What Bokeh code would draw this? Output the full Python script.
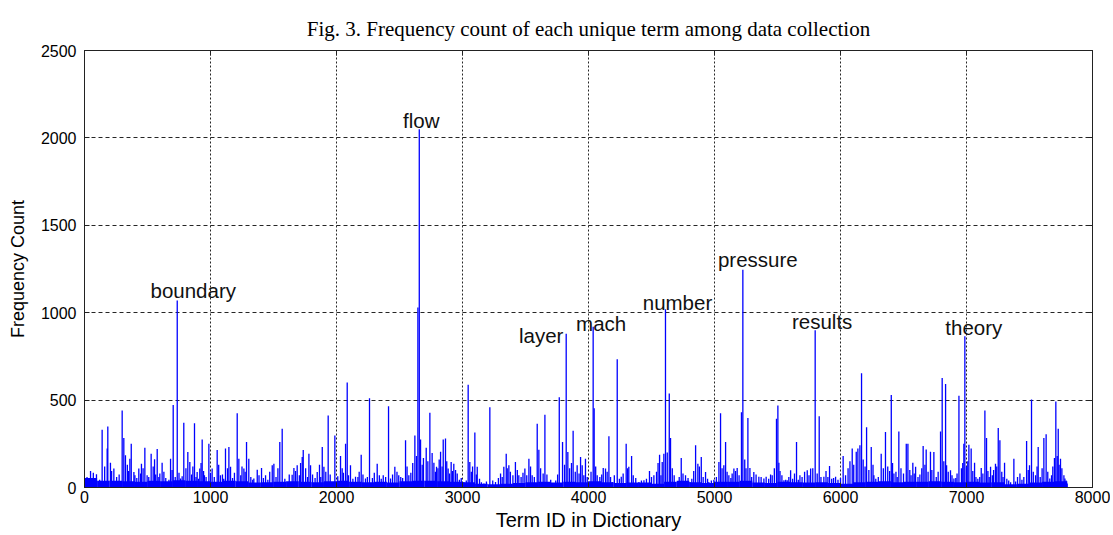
import numpy as np
from bokeh.plotting import figure
from bokeh.models import ColumnDataSource, Range1d, LinearAxis, FixedTicker
from bokeh.embed import file_html
from bokeh.resources import INLINE
from bokeh.core.properties import value

# ---------------- data ----------------
# prominent spikes
term_ids = [
    5, 48, 95, 140, 180, 185, 206, 233, 299, 312, 325, 360, 371, 392, 431, 452, 479, 497, 529, 556,
    577, 598, 616, 656, 683, 704, 736, 762, 788, 820, 836, 873, 894, 915, 934, 952, 987, 1013, 1053, 1079,
    1119, 1146, 1159, 1212, 1225, 1265, 1286, 1304, 1344,
    1371, 1405, 1437, 1490, 1503, 1550, 1569, 1609, 1648, 1662, 1688, 1728, 1736, 1781, 1794, 1847, 1887, 1900, 1934, 1966,
    1987, 2032, 2072, 2085, 2111, 2151, 2196, 2230, 2262, 2323, 2371, 2413, 2429, 2463, 2494, 2548, 2574, 2622, 2646, 2657,
    2667, 2690, 2712,
    2741, 2759, 2773, 2794, 2826, 2847, 2865, 2886, 2910, 2931, 2958, 3011, 3045, 3058, 3098, 3117, 3170, 3217, 3262, 3302,
    3328, 3347, 3368, 3420, 3447, 3495, 3527, 3553, 3593, 3606, 3654, 3685, 3725, 3768, 3794, 3823, 3836, 3878, 3910, 3937,
    3950, 3976,
    4037, 4045, 4069, 4117, 4135, 4162, 4188, 4228, 4260, 4299, 4320, 4342, 4400, 4440, 4484, 4519, 4564, 4585, 4598, 4611,
    4641, 4651, 4691, 4736, 4770, 4805, 4850, 4868, 4895, 4929, 4955, 5035, 5048, 5074, 5088, 5114, 5154, 5180, 5214, 5225,
    5265, 5281, 5312, 5352, 5392,
    5410, 5458, 5492, 5503, 5511, 5551, 5577, 5604, 5651, 5678, 5736, 5763, 5799, 5831, 5868, 5913, 5961, 6021, 6093, 6125,
    6138, 6154, 6167, 6207, 6244, 6265, 6323, 6357, 6403, 6424, 6463, 6522, 6535, 6574, 6596, 6656, 6680, 6714, 6741,
    6794, 6807, 6834, 6842, 6873, 6900, 6940, 6979, 6987, 7019, 7037, 7064, 7117, 7146, 7159, 7191, 7230, 7252, 7265, 7302,
    7376, 7424, 7477, 7500, 7516, 7548, 7569, 7614, 7632, 7661, 7698, 7709, 7728, 7746, 7773, 7781, 7799,
]
counts = [
    50, 95, 76, 330, 223, 349, 141, 108, 440, 283, 184, 165, 250, 89, 108, 136, 227, 70, 193, 161,
    220, 80, 141, 32, 165, 472, 1070, 51, 370, 203, 146, 368, 89, 108, 274, 70, 250, 108, 214, 70,
    223, 231, 118, 425, 165, 108, 260, 165, 51,
    102, 112, 70, 127, 136, 260, 336, 32, 73, 112, 127, 175, 214, 193, 127, 89, 231, 118, 412, 32,
    298, 180, 250, 601, 127, 61, 188, 51, 510, 136, 70, 465, 51, 118, 70, 270, 70, 298, 1030, 2050,
    274, 169, 227,
    427, 197, 141, 118, 205, 274, 280, 108, 146, 136, 80, 32, 588, 146, 315, 118, 23, 459, 32, 80,
    118, 193, 127, 146, 70, 108, 165, 70, 364, 216, 416, 32, 23, 516, 260, 880, 203, 324, 127, 175,
    127, 165,
    920, 453, 70, 112, 108, 293, 32, 734, 61, 250, 118, 180, 32, 42, 95, 70, 188, 146, 193, 1020,
    538, 283, 32, 169, 70, 32, 241, 136, 175, 89, 32, 146, 425, 127, 260, 70, 108, 112, 431, 1245,
    397, 112, 89, 61, 51,
    61, 70, 393, 469, 141, 42, 42, 99, 260, 70, 99, 108, 900, 408, 61, 123, 61, 180, 223, 205,
    223, 241, 654, 345, 231, 70, 193, 317, 529, 80, 321, 250, 250, 141, 118, 237, 218, 205, 203,
    321, 626, 592, 127, 99, 51, 525, 250, 865, 245, 223, 141, 112, 440, 283, 118, 136, 340, 270, 141,
    165, 80, 266, 127, 503, 70, 231, 283, 304, 51, 169, 492, 336, 165, 70, 51, 23,
]

# smaller spikes in the dense low band
minor_ids = [
    20, 70, 120, 160, 215, 255, 275, 340, 350, 400, 415, 445, 465, 510, 545, 565, 590, 630, 645, 670,
    695, 720, 750, 775, 805, 850, 860, 885, 905, 925, 945, 965, 1000, 1030, 1065, 1095, 1105, 1135, 1175, 1190,
    1240, 1250, 1275, 1320, 1335,
    1385, 1420, 1455, 1470, 1520, 1535, 1590, 1625, 1675, 1705, 1715, 1755, 1770, 1810, 1830, 1865, 1875, 1915, 1950, 2010,
    2045, 2055, 2095, 2130, 2170, 2180, 2210, 2245, 2285, 2300, 2340, 2355, 2390, 2445, 2480, 2510, 2525, 2560, 2590, 2605,
    2635, 2680,
    2725, 2785, 2805, 2815, 2838, 2875, 2897, 2920, 2945, 2975, 2990, 3030, 3070, 3080, 3110, 3135, 3150, 3190, 3240, 3285,
    3315, 3355, 3380, 3400, 3435, 3465, 3480, 3510, 3540, 3570, 3620, 3640, 3670, 3700, 3740, 3755, 3810, 3850, 3865, 3895,
    3925, 3963, 3990,
    4020, 4057, 4090, 4105, 4148, 4175, 4205, 4245, 4275, 4310, 4355, 4375, 4420, 4460, 4500, 4540, 4552, 4575, 4625, 4665,
    4680, 4720, 4750, 4790, 4820, 4835, 4880, 4910, 4945, 4975, 4995, 5015, 5060, 5100, 5130, 5140, 5167, 5195, 5240, 5250,
    5295, 5330, 5370,
    5430, 5445, 5475, 5520, 5535, 5565, 5590, 5620, 5635, 5665, 5695, 5715, 5750, 5780, 5815, 5845, 5885, 5900, 5930, 5945,
    5980, 6000, 6040, 6060, 6075, 6105, 6180, 6195, 6225, 6258, 6280, 6300, 6340, 6375, 6390, 6413, 6440, 6450, 6480, 6500,
    6550, 6560, 6585, 6615, 6630, 6645, 6670, 6695, 6725,
    6760, 6775, 6820, 6855, 6885, 6915, 6925, 6960, 6970, 7000, 7010, 7050, 7075, 7090, 7105, 7130, 7170, 7180, 7205, 7215,
    7240, 7280, 7290, 7320, 7335, 7350, 7390, 7405, 7440, 7455, 7490, 7530, 7560, 7585, 7600, 7645, 7675, 7685, 7720, 7735,
    7757, 7790,
]
minor_counts = [
    60, 85, 45, 120, 95, 60, 75, 130, 95, 70, 55, 80, 110, 60, 120, 75, 60, 90, 55, 45,
    100, 60, 85, 65, 110, 75, 120, 60, 50, 140, 95, 60, 85, 60, 130, 75, 50, 110, 55, 85,
    70, 120, 90, 60, 45,
    70, 55, 45, 90, 60, 110, 50, 75, 95, 70, 140, 110, 60, 75, 55, 130, 60, 90, 75, 65,
    110, 85, 70, 50, 60, 90, 75, 60, 55, 85, 70, 50, 60, 75, 90, 60, 55, 120, 85, 140,
    180, 130,
    150, 90, 110, 160, 120, 150, 80, 95, 100, 45, 55, 40, 90, 120, 75, 50, 30, 35, 40, 55,
    60, 110, 90, 70, 100, 60, 85, 70, 120, 60, 110, 80, 75, 45, 40, 75, 130, 110, 140, 90,
    80, 70, 60,
    90, 120, 60, 75, 90, 60, 70, 50, 80, 110, 70, 55, 40, 50, 60, 90, 140, 70, 200, 110,
    70, 60, 80, 55, 50, 95, 120, 60, 50, 40, 45, 60, 110, 90, 55, 80, 95, 70, 160, 110,
    60, 75, 60,
    50, 75, 110, 95, 70, 45, 60, 50, 80, 45, 60, 90, 70, 110, 80, 60, 95, 60, 50, 55,
    45, 55, 70, 110, 150, 130, 160, 120, 100, 130, 50, 60, 110, 120, 95, 140, 90, 60, 110, 80,
    100, 70, 80, 60, 75, 110, 130, 90, 100,
    60, 90, 150, 90, 70, 55, 80, 110, 140, 120, 150, 95, 60, 50, 60, 80, 95, 60, 70, 100,
    120, 90, 60, 50, 40, 30, 35, 60, 45, 60, 100, 90, 120, 60, 110, 90, 70, 120, 180, 130,
    110, 40,
]

# solid low band: typical count per block of 100 term IDs (0-100, 100-200, ...)
base_level = [
    55, 38, 38, 36, 33, 38, 36, 42, 38, 36, 33, 38, 36,
    28, 30, 33, 36, 33, 30, 36, 38, 33, 30, 33, 28, 36, 38,
    38, 36, 33, 30, 22, 18, 22, 26, 30, 33, 28, 33, 30,
    36, 30, 26, 28, 28, 22, 33, 38, 30, 26, 33, 33, 38,
    28, 26, 33, 30, 28, 30, 26, 22, 30, 33, 36, 30, 33,
    33, 36, 33, 30, 33, 28, 30, 18, 22, 28, 33, 36,
]
base_block = 100

label_words = ["boundary", "flow", "layer", "mach", "number", "pressure", "results", "theory"]
label_term_ids = [736, 2657, 3823, 4037, 4611, 5225, 5799, 6987]

x_ticks = [0, 1000, 2000, 3000, 4000, 5000, 6000, 7000, 8000]
y_ticks = [0, 500, 1000, 1500, 2000, 2500]

title_text = "Fig. 3. Frequency count of each unique term among data collection"
x_label = "Term ID in Dictionary"
y_label = "Frequency Count"

# ---------------- styles ----------------
label_dx = [16, 2, -25, 8, 12, 15, 7, 9]          # px
label_dy = [-10, -9, 2, -3, -7, -10, -9, -9]      # px (screen, down positive)
BLUE = "#0000FF"
SANS = "Liberation Sans"

p = figure(width=1110, height=533, x_range=Range1d(0, 8000), y_range=Range1d(0, 2500),
           output_backend="svg", toolbar_location=None,
           min_border_left=84, min_border_right=18, min_border_top=50, min_border_bottom=46)

# solid band
nb = len(base_level)
base_src = ColumnDataSource(dict(x=np.arange(nb) * base_block + base_block / 2, top=base_level))
p.vbar(x="x", top="top", width=base_block, bottom=0, source=base_src,
       fill_color=BLUE, line_color=None)

# minor spikes
mspk = ColumnDataSource(dict(x=minor_ids, y0=[0] * len(minor_counts), y1=minor_counts))
p.segment(x0="x", y0="y0", x1="x", y1="y1", source=mspk, line_color=BLUE, line_width=1.3)

# prominent spikes
spk = ColumnDataSource(dict(x=term_ids, y0=[0] * len(counts), y1=counts))
p.segment(x0="x", y0="y0", x1="x", y1="y1", source=spk, line_color=BLUE, line_width=1.3)

# labels
lookup = dict(zip(term_ids, counts))
lab = ColumnDataSource(dict(x=label_term_ids, y=[lookup[t] for t in label_term_ids],
                            text=label_words, dx=label_dx, dy=label_dy))
p.text(x="x", y="y", text="text", source=lab, x_offset="dx", y_offset="dy",
       text_align="center", text_baseline="alphabetic",
       text_font=value(SANS), text_font_size="20.5px", text_color="#111111")

# title
p.title.text = title_text
p.title.align = "center"
p.title.vertical_align = "top"
p.title.text_font = "Liberation Serif"
p.title.text_font_size = "21px"
p.title.text_font_style = "normal"
p.title.text_color = "black"
p.title.standoff = 16

# axes
for ax in (p.xaxis[0], p.yaxis[0]):
    ax.major_tick_in = 5
    ax.major_tick_out = 0
    ax.minor_tick_line_color = None
    ax.axis_line_color = "#222222"
    ax.major_tick_line_color = "#222222"
    ax.major_label_text_font = SANS
    ax.major_label_text_font_size = "16px"
    ax.major_label_text_color = "black"
    ax.axis_label_text_font = SANS
    ax.axis_label_text_font_style = "normal"
    ax.axis_label_text_color = "black"

p.xaxis.ticker = FixedTicker(ticks=x_ticks)
p.yaxis.ticker = FixedTicker(ticks=y_ticks)
p.xaxis.axis_label = x_label
p.yaxis.axis_label = y_label
p.xaxis.axis_label_text_font_size = "20px"
p.yaxis.axis_label_text_font_size = "18px"
p.xaxis.major_label_standoff = 3
p.xaxis.axis_label_standoff = 3
p.yaxis.major_label_standoff = 8
p.yaxis.axis_label_standoff = 10

for side, tk in (("right", y_ticks), ("above", x_ticks)):
    a = LinearAxis(ticker=FixedTicker(ticks=tk), major_label_text_font_size="1px",
                   major_label_text_color=None,
                   major_tick_in=5, major_tick_out=0, minor_tick_line_color=None,
                   axis_line_color="#222222", major_tick_line_color="#222222",
                   major_label_standoff=0)
    p.add_layout(a, side)

# grids
p.xgrid.ticker = FixedTicker(ticks=x_ticks)
p.ygrid.ticker = FixedTicker(ticks=y_ticks)
p.xgrid.grid_line_color = "black"
p.xgrid.grid_line_dash = "2 2"
p.ygrid.grid_line_color = "black"
p.ygrid.grid_line_dash = "4 3"
p.xgrid.grid_line_alpha = 0.85
p.ygrid.grid_line_alpha = 0.85

p.outline_line_color = "#222222"
p.background_fill_color = "white"
p.border_fill_color = "white"

open("out.html", "w").write(file_html(p, INLINE))
